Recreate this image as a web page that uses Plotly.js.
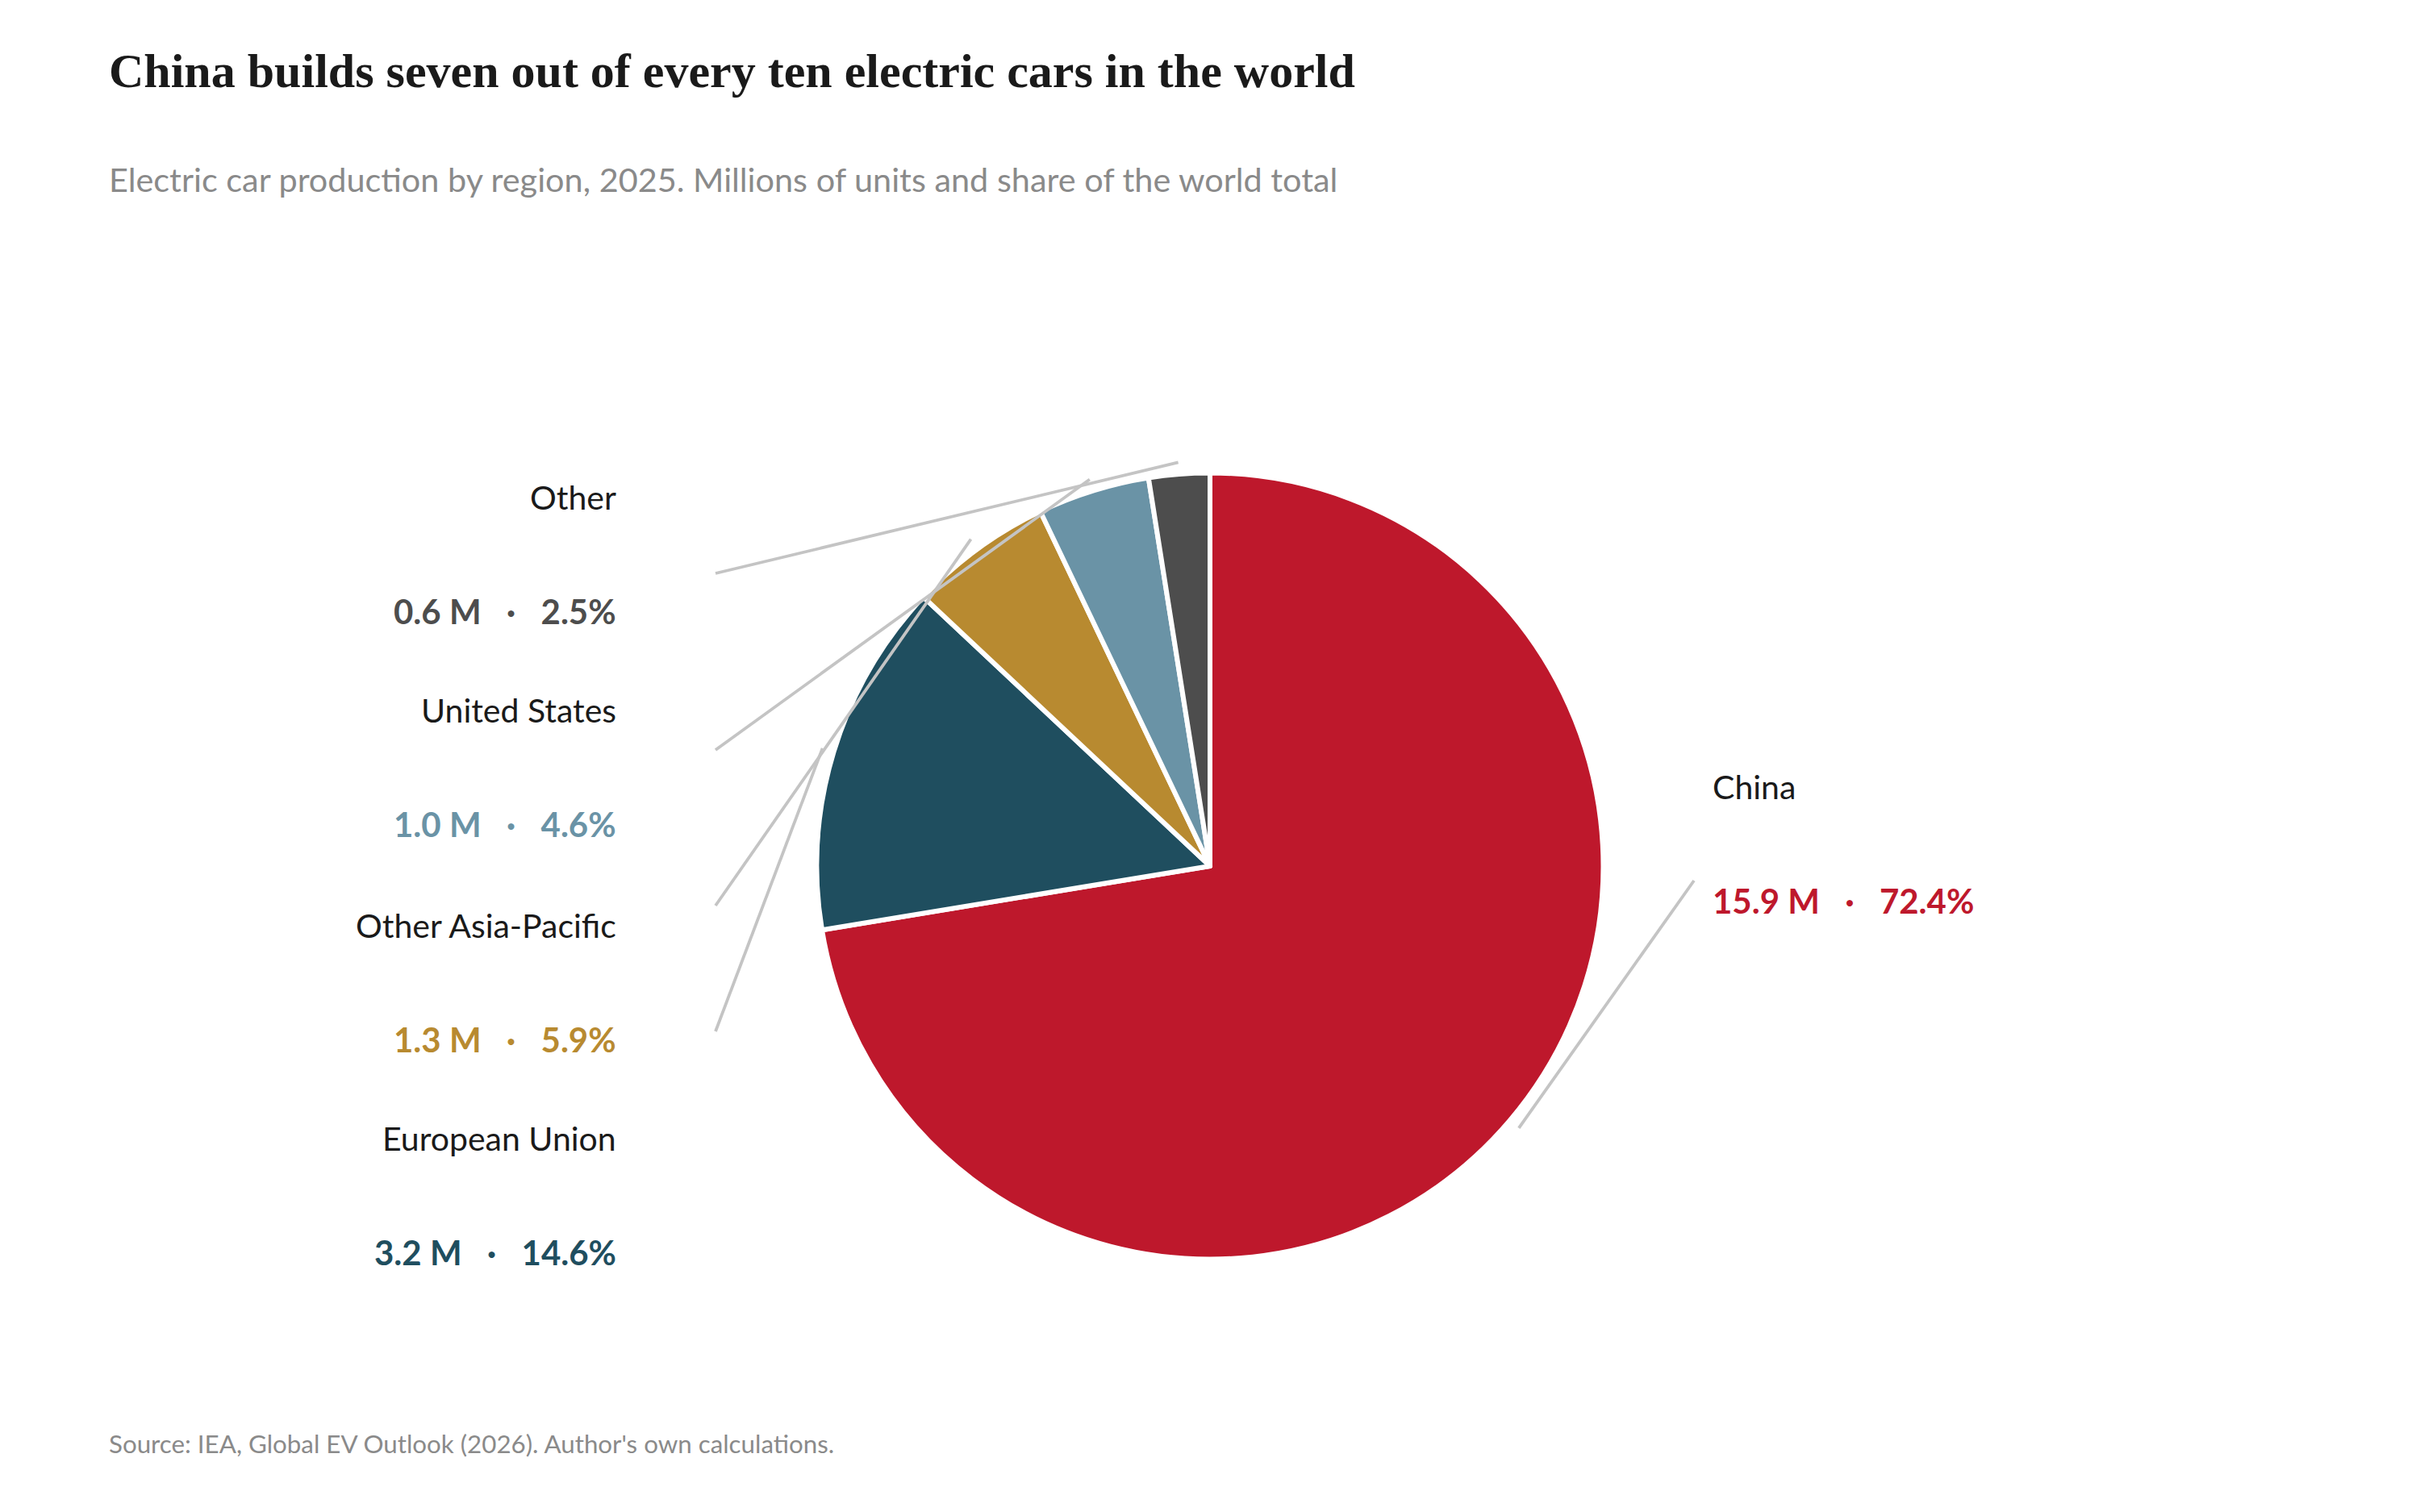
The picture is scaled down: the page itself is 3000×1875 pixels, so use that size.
<!DOCTYPE html>
<html>
<head>
<meta charset="utf-8">
<script src="https://cdn.plot.ly/plotly-3.0.1.min.js"></script>
<style>
  html, body { margin: 0; padding: 0; background: #ffffff; }
  #chart { width: 3000px; height: 1875px; }
</style>
</head>
<body>
<div id="chart"></div>
<script>
// data, clockwise from 12 o'clock
var regions = ['China', 'European Union', 'Other Asia-Pacific', 'United States', 'Other'];
var units = [15.9, 3.2, 1.3, 1.0, 0.6];       // millions of cars
var shares = [72.4, 14.6, 5.9, 4.6, 2.5];     // % of world total
var colors = ['#be182c', '#1f4e5f', '#b88a30', '#6a93a6', '#4d4d4d'];

// page geometry (px)
var W = 3000, H = 1875;
var cx = 1500, cy = 1074, r = 487.5;

// label placement (px): side, text x, name baseline, leader line outer end
var labelSide = ['right', 'left', 'left', 'left', 'left'];
var labelX = [2122, 765, 765, 765, 765];
var nameBase = [992, 1428, 1164, 897, 633];
var valueGap = 142;
var lineEnd = [[2100, 1092], [887, 1279], [887, 1123], [887, 930], [887, 711]];

var FONT = 'Lato, "Source Sans Pro", sans-serif';
var fsName = 41, fsValue = 42;
var desc = 0.213;   // Lato descent, for baseline placement

function px2x(p) { return p / W; }
function py2y(p) { return 1 - p / H; }

var total = shares.reduce(function(a, b) { return a + b; }, 0);

var annotations = [];
var shapes = [];
var cum = 0;
for (var i = 0; i < regions.length; i++) {
    var mid = (cum + shares[i] / 2) / total * 2 * Math.PI;
    cum += shares[i];

    // leader line from just outside the slice to the label
    var R = r * 1.03;
    shapes.push({
        type: 'line', xref: 'paper', yref: 'paper',
        x0: px2x(cx + R * Math.sin(mid)), y0: py2y(cy - R * Math.cos(mid)),
        x1: px2x(lineEnd[i][0]), y1: py2y(lineEnd[i][1]),
        line: {color: '#c4c4c4', width: 3.8}
    });

    var anchor = labelSide[i] == 'left' ? 'right' : 'left';
    annotations.push({
        text: regions[i],
        xref: 'paper', yref: 'paper',
        x: px2x(labelX[i]), y: py2y(nameBase[i] + desc * fsName),
        xanchor: anchor, yanchor: 'bottom', showarrow: false, borderpad: 0,
        font: {family: FONT, size: fsName, color: '#1a1a1a'}
    });
    annotations.push({
        text: units[i].toFixed(1) + ' M\u2002\u00a0\u00b7\u2002\u00a0' + shares[i].toFixed(1) + '%',
        xref: 'paper', yref: 'paper',
        x: px2x(labelX[i]), y: py2y(nameBase[i] + valueGap + desc * fsValue),
        xanchor: anchor, yanchor: 'bottom', showarrow: false, borderpad: 0,
        font: {family: FONT, size: fsValue, color: colors[i], weight: 700}
    });
}

// subtitle and source
annotations.push({
    text: 'Electric car production by region, 2025. Millions of units and share of the world total',
    xref: 'paper', yref: 'paper', x: px2x(134), y: py2y(239 + desc * 41.4),
    xanchor: 'left', yanchor: 'bottom', showarrow: false, borderpad: 0,
    font: {family: FONT, size: 41.4, color: '#8a8a8a'}
});
annotations.push({
    text: "Source: IEA, Global EV Outlook (2026). Author's own calculations.",
    xref: 'paper', yref: 'paper', x: px2x(134), y: py2y(1803 + desc * 31.3),
    xanchor: 'left', yanchor: 'bottom', showarrow: false, borderpad: 0,
    font: {family: FONT, size: 31.3, color: '#8a8a8a'}
});

var plot_data = [{
    type: 'pie',
    labels: regions,
    values: shares,
    sort: false,
    direction: 'clockwise',
    rotation: 0,
    textinfo: 'none',
    hoverinfo: 'label+value',
    marker: {
        colors: colors,
        line: {color: '#ffffff', width: 6}
    },
    domain: {
        x: [px2x(cx - r), px2x(cx + r)],
        y: [py2y(cy + r), py2y(cy - r)]
    }
}];

var layout = {
    width: W,
    height: H,
    margin: {l: 0, r: 0, t: 0, b: 0},
    paper_bgcolor: '#ffffff',
    showlegend: false,
    title: {
        text: 'China builds seven out of every ten electric cars in the world',
        font: {family: '"Liberation Serif", "DejaVu Serif", serif', size: 60, color: '#1a1a1a', weight: 700},
        xref: 'container', yref: 'container',
        x: px2x(135), xanchor: 'left',
        y: py2y(108), yanchor: 'bottom'
    },
    annotations: annotations,
    shapes: shapes
};

Plotly.newPlot('chart', plot_data, layout, {staticPlot: true});
</script>
</body>
</html>
